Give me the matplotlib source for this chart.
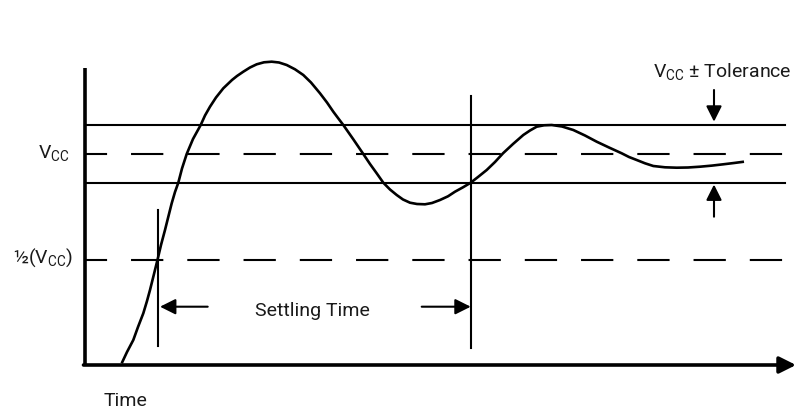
import matplotlib.pyplot as plt

plt.rcParams['font.family'] = ['Roboto', 'DejaVu Sans']
plt.rcParams['mathtext.fontset'] = 'custom'
plt.rcParams['mathtext.rm'] = 'Roboto'
plt.rcParams['mathtext.it'] = 'Roboto'

# Signal curve (picture units, y grows downward)
curve_x = [121.7, 127, 133.3, 138, 143.3, 147, 150, 154, 157.7, 161,
           165, 168, 171.7, 175, 178.3, 182, 186.7, 193, 200.7, 205,
           210, 216, 223.3, 232, 237, 243.3, 250, 256.7, 264, 271.7,
           279, 286.7, 295, 303.3, 311, 320, 327, 333.3, 338, 343.3,
           353.3, 363.3, 370, 376.7, 383.3, 390, 396.7, 403, 410, 417,
           425, 432, 440, 448, 455, 463, 470.7, 478, 486.7, 495,
           503, 513, 523.3, 530, 536.7, 544, 551.7, 562, 573.3, 585,
           596.7, 609, 621.7, 629, 636.7, 645, 653.3, 665, 676.7, 688,
           700, 712, 723.3, 734, 744]
curve_y = [363.3, 352, 340, 327, 313.3, 301, 290, 274, 259, 245,
           230, 218, 203.3, 192, 182.7, 168.5, 154, 139, 125, 115.5,
           106.7, 97.5, 88.3, 80, 76, 71.7, 67.5, 64.3, 62.3, 61.7,
           62.5, 65, 69.3, 75, 82.5, 93.3, 102.5, 111.7, 118, 125,
           139.3, 154, 164, 173.3, 182.7, 189.5, 195, 199.5, 202.7, 204,
           204.3, 203, 200, 196.3, 191.7, 187.3, 182.7, 177, 170, 162,
           153.3, 144, 135, 130.5, 126.7, 125.3, 125, 126.5, 130, 135.5,
           141.7, 147.5, 153.3, 157, 160, 163.3, 166, 167.3, 167.7, 167.5,
           166.7, 165.6, 164.3, 163, 161.7]

# Levels
vcc_level = 154
tol_upper = 125
tol_lower = 183
half_vcc_level = 259.5

# Settling time markers
settle_start = 157.5
settle_end = 471

fig = plt.figure(figsize=(7.96, 4.08), dpi=100)
ax = fig.add_axes([0, 0, 1, 1])
ax.set_xlim(0, 796)
ax.set_ylim(408, 0)
ax.axis('off')

x0, x1 = 85, 785
dash = (4.9, (15.5, 11.5))

# tolerance band and reference levels
ax.plot([x0, x1], [tol_upper, tol_upper], color='black', lw=1.5)
ax.plot([x0, x1], [tol_lower, tol_lower], color='black', lw=1.5)
ax.plot([x0, x1], [vcc_level, vcc_level], color='black', lw=1.5, linestyle=dash)
ax.plot([x0, x1], [half_vcc_level, half_vcc_level], color='black', lw=1.5, linestyle=dash)

# settling time vertical markers
ax.plot([settle_start, settle_start], [210, 345.5], color='black', lw=1.5)
ax.plot([settle_end, settle_end], [96, 347.5], color='black', lw=1.5)

# signal
ax.plot(curve_x, curve_y, color='black', lw=1.9, solid_joinstyle='round', solid_capstyle='butt')

# axes
ax.plot([85, 85], [68, 366], color='black', lw=2.6, solid_capstyle='butt')
ax.annotate('', xy=(796, 365), xytext=(83.5, 365),
            arrowprops=dict(arrowstyle='-|>,head_length=10,head_width=5',
                            color='black', lw=2.6, mutation_scale=1,
                            shrinkA=0, shrinkB=0))

# arrows
head = '-|>,head_length=9.4,head_width=4.7'
for tip, tail, y in [(160, 207.7, 306.7), (470.7, 421.7, 306.7)]:
    ax.annotate('', xy=(tip, y), xytext=(tail, y),
                arrowprops=dict(arrowstyle=head, color='black', lw=1.5,
                                mutation_scale=1, shrinkA=0, shrinkB=0))
ax.annotate('', xy=(714, 121.7), xytext=(714, 90),
            arrowprops=dict(arrowstyle=head, color='black', lw=1.5,
                            mutation_scale=1, shrinkA=0, shrinkB=0))
ax.annotate('', xy=(714, 184.5), xytext=(714, 216.7),
            arrowprops=dict(arrowstyle=head, color='black', lw=1.5,
                            mutation_scale=1, shrinkA=0, shrinkB=0))

# labels
fs = 14
ax.text(70, 158, r'$\mathrm{V_{CC}}$', ha='right', va='baseline', fontsize=fs, color='#1a1a1a')
ax.text(72.7, 263, r'½($\mathrm{V_{CC}}$)', ha='right', va='baseline', fontsize=fs, color='#1a1a1a')
ax.text(722, 76.7, r'$\mathrm{V_{CC}}$ ± Tolerance', ha='center', va='baseline', fontsize=fs, color='#1a1a1a')
ax.text(312, 316.5, 'Settling Time', ha='center', va='baseline', fontsize=fs, color='#1a1a1a')
ax.text(104, 405.5, 'Time', ha='left', va='baseline', fontsize=fs, color='#1a1a1a')

fig.savefig('out.png', dpi=100)
